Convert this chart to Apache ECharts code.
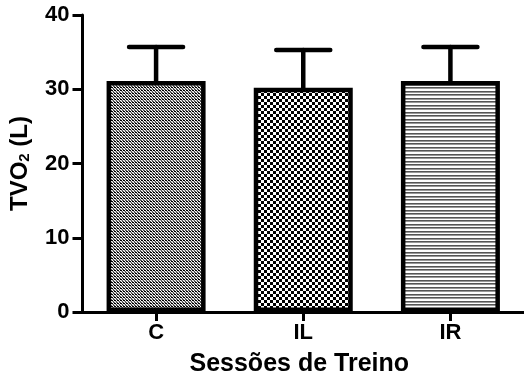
<!DOCTYPE html>
<html>
<head>
<meta charset="utf-8">
<script src="https://cdn.jsdelivr.net/npm/echarts@6/dist/echarts.min.js"></script>
<style>
  html, body { margin: 0; padding: 0; background: #fff; }
  #chart { width: 524px; height: 382px; }
</style>
</head>
<body>
<div id="chart"></div>
<script>
// Training sessions and mean TVO2 with standard deviation
const categories = ['C', 'IL', 'IR'];
const means = [31.1, 30.2, 31.1];
const errors = [4.6, 5.1, 4.6];
const yTicks = [0, 10, 20, 30, 40];

// Fill patterns drawn on small canvases
function makePattern(w, h, draw) {
  const c = document.createElement('canvas');
  c.width = w; c.height = h;
  const ctx = c.getContext('2d');
  ctx.fillStyle = '#fff';
  ctx.fillRect(0, 0, w, h);
  draw(ctx);
  return { image: c, repeat: 'repeat' };
}
// fine checker
const fineChecker = makePattern(3, 3, ctx => {
  ctx.fillStyle = '#000';
  ctx.fillRect(0, 0, 2, 1);
  ctx.fillStyle = '#555';
  ctx.fillRect(2, 1, 1, 2);
  ctx.fillRect(0, 2, 1, 1);
  ctx.fillStyle = '#aaa';
  ctx.fillRect(1, 1, 1, 1);
});
// coarse checker
const coarseChecker = makePattern(6, 6, ctx => {
  ctx.fillStyle = '#000';
  ctx.fillRect(0, 0, 3, 3);
  ctx.fillRect(3, 3, 3, 3);
});
// horizontal stripes
const stripes = makePattern(4, 7, ctx => {
  ctx.fillStyle = '#555';
  ctx.fillRect(0, 0, 4, 1);
  ctx.fillStyle = '#999';
  ctx.fillRect(0, 1, 4, 1);
  ctx.fillRect(0, 4, 4, 1);
  ctx.fillStyle = '#555';
  ctx.fillRect(0, 3, 4, 1);
});
const fills = [fineChecker, coarseChecker, stripes];

const chart = echarts.init(document.getElementById('chart'), null, { renderer: 'canvas' });
const font = '"Liberation Sans", Arial, sans-serif';

chart.setOption({
  animation: false,
  backgroundColor: '#fff',
  grid: { left: 82, top: 15, width: 450, bottom: 68, containLabel: false },
  xAxis: {
    type: 'category',
    data: categories,
    name: 'Sessões de Treino',
    nameLocation: 'middle',
    nameGap: 40,
    nameTextStyle: { fontFamily: font, fontWeight: 'bold', fontSize: 25, color: '#000', padding: [0, 0, 0, -8] },
    axisLine: { lineStyle: { color: '#000', width: 3 } },
    axisTick: { show: true, alignWithLabel: true, length: 9, lineStyle: { color: '#000', width: 3 } },
    axisLabel: { fontFamily: font, fontWeight: 'bold', fontSize: 22, color: '#000', margin: 10 },
    splitLine: { show: false }
  },
  yAxis: {
    type: 'value',
    min: yTicks[0],
    max: yTicks[yTicks.length - 1],
    interval: yTicks[1] - yTicks[0],
    name: '{m|TVO}{s|2}{m| (L)}',
    nameLocation: 'middle',
    nameGap: 50,
    nameRotate: 90,
    nameTextStyle: {
      rich: {
        m: { fontFamily: font, fontWeight: 'bold', fontSize: 24, color: '#000' },
        s: { fontFamily: font, fontWeight: 'bold', fontSize: 15, color: '#000', verticalAlign: 'bottom', padding: [10, 0, 0, 0] }
      }
    },
    axisLine: { show: true, lineStyle: { color: '#000', width: 3 } },
    axisTick: { show: true, length: 10, lineStyle: { color: '#000', width: 3 } },
    axisLabel: { fontFamily: font, fontWeight: 'bold', fontSize: 22, color: '#000', margin: 13 },
    splitLine: { show: false }
  },
  series: [
    {
      type: 'bar',
      barWidth: 99,
      data: means.map((v, i) => ({
        value: v,
        itemStyle: { color: fills[i], borderColor: '#000', borderWidth: 4.5 }
      })),
      z: 2
    },
    {
      type: 'custom',
      z: 3,
      data: means.map((v, i) => [i, v, v + errors[i]]),
      renderItem: function (params, api) {
        const x = api.coord([api.value(0), api.value(1)])[0];
        const yLow = api.coord([api.value(0), api.value(1)])[1];
        const yHigh = api.coord([api.value(0), api.value(2)])[1];
        const half = 27;
        const style = { stroke: '#000', lineWidth: 4.5, lineCap: 'round' };
        return {
          type: 'group',
          children: [
            { type: 'line', shape: { x1: x, y1: yLow, x2: x, y2: yHigh }, style: style },
            { type: 'line', shape: { x1: x - half, y1: yHigh, x2: x + half, y2: yHigh }, style: style }
          ]
        };
      }
    }
  ]
});
</script>
</body>
</html>
